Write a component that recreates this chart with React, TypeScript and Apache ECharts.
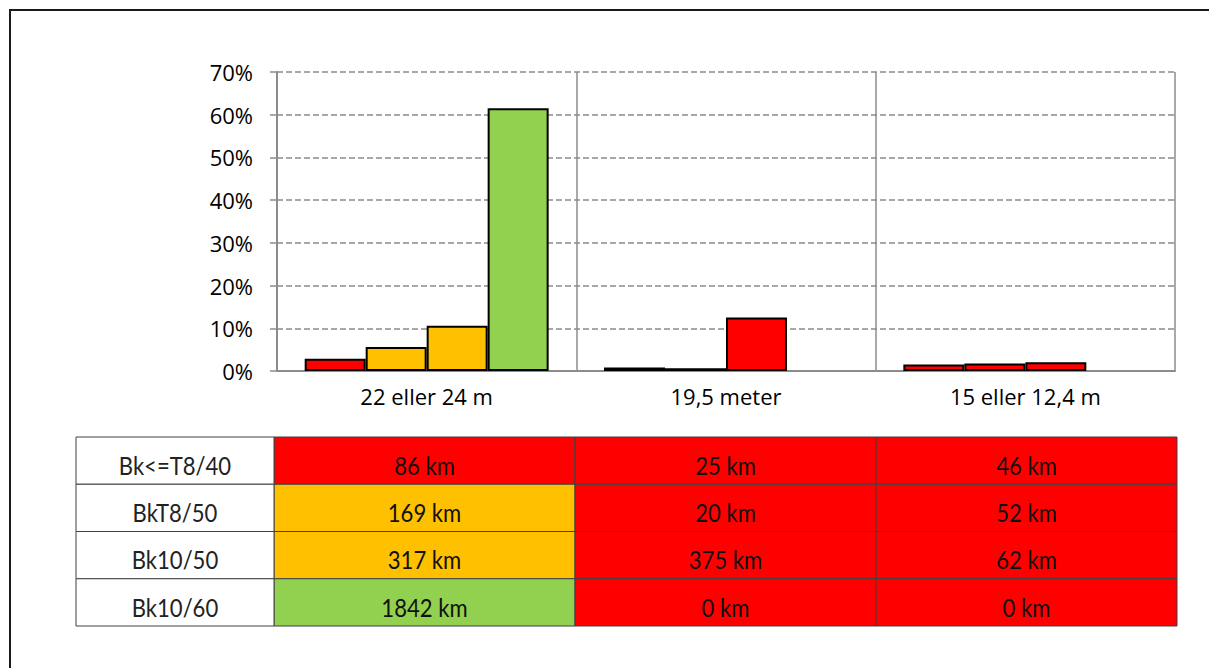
import React, { useEffect, useRef } from "react";
import * as echarts from "echarts";

// Vehicle length groups (x categories / table columns)
const categories = ["22 eller 24 m", "19,5 meter", "15 eller 12,4 m"];
// Road classes (bar series / table rows)
const roadClasses = ["Bk<=T8/40", "BkT8/50", "Bk10/50", "Bk10/60"];

// Share of total road length (%) per road class, per vehicle length group
const shareBkT8_40 = [2.87, 0.83, 1.54];
const shareBkT8_50 = [5.64, 0.67, 1.74];
const shareBk10_50 = [10.59, 12.52, 2.07];
const shareBk10_60 = [61.52, 0, 0];

// Road length (km) per road class, per vehicle length group
const kmBkT8_40 = [86, 25, 46];
const kmBkT8_50 = [169, 20, 52];
const kmBk10_50 = [317, 375, 62];
const kmBk10_60 = [1842, 0, 0];

// Status colour per cell: r = red, o = orange, g = green
const statusBkT8_40 = ["r", "r", "r"];
const statusBkT8_50 = ["o", "r", "r"];
const statusBk10_50 = ["o", "r", "r"];
const statusBk10_60 = ["g", "r", "r"];

const yTicks = [0, 10, 20, 30, 40, 50, 60, 70];

const shares = [shareBkT8_40, shareBkT8_50, shareBk10_50, shareBk10_60];
const kms = [kmBkT8_40, kmBkT8_50, kmBk10_50, kmBk10_60];
const statuses = [statusBkT8_40, statusBkT8_50, statusBk10_50, statusBk10_60];

const COLORS: Record<string, string> = { r: "#FF0000", o: "#FFC000", g: "#92D050" };
const GRID_GRAY = "#8c8c8c";
const TABLE_LINE = "#404040";
const AXIS_FONT = "'Open Sans', 'Noto Sans', sans-serif";
const TABLE_FONT = "Lato, 'Noto Sans', sans-serif";
const TABLE_TEXT_SCALE = 0.85;

// One table cell: filled rect plus horizontally condensed centred text
function cellGraphic(api: any, x: number, y: number, fill: string, text: string, textColor: string) {
  const center = api.coord([x, y]);
  const size = api.size([1, 1]);
  return {
    type: "group",
    children: [
      {
        type: "rect",
        shape: {
          x: center[0] - size[0] / 2,
          y: center[1] - size[1] / 2,
          width: size[0],
          height: size[1],
        },
        style: { fill, stroke: TABLE_LINE, lineWidth: 1 },
      },
      {
        type: "text",
        x: center[0],
        y: center[1] + 4,
        scaleX: TABLE_TEXT_SCALE,
        style: {
          text,
          fill: textColor,
          font: `26px ${TABLE_FONT}`,
          align: "center",
          verticalAlign: "middle",
        },
      },
    ],
  };
}

function buildOption() {
  const barSeries = roadClasses.map((name, si) => ({
    type: "bar",
    name,
    xAxisIndex: 0,
    yAxisIndex: 0,
    barGap: "0%",
    barCategoryGap: "18.5%",
    data: shares[si].map((v, ci) => ({
      value: v,
      itemStyle: {
        color: COLORS[statuses[si][ci]],
        borderColor: "#000",
        borderWidth: v > 0 ? 2 : 0,
      },
    })),
  }));

  const valueCells: number[][] = [];
  roadClasses.forEach((_, r) => {
    categories.forEach((_, c) => valueCells.push([c, r]));
  });
  const labelCells: number[][] = roadClasses.map((_, r) => [0, r]);

  const tableValueSeries = {
    type: "custom",
    xAxisIndex: 1,
    yAxisIndex: 1,
    data: valueCells,
    renderItem: (_p: any, api: any) => {
      const c = api.value(0);
      const r = api.value(1);
      return cellGraphic(api, c, r, COLORS[statuses[r][c]], `${kms[r][c]} km`, "#111");
    },
  };

  const tableLabelSeries = {
    type: "custom",
    xAxisIndex: 2,
    yAxisIndex: 2,
    data: labelCells,
    renderItem: (_p: any, api: any) => {
      const r = api.value(1);
      return cellGraphic(api, 0, r, "#fff", roadClasses[r], "#222");
    },
  };

  return {
    animation: false,
    backgroundColor: "#fff",
    grid: [
      { left: 277, top: 72, width: 898, height: 299 },
      { left: 274, top: 437, width: 903, height: 189 },
      { left: 76, top: 437, width: 198, height: 189 },
    ],
    xAxis: [
      {
        type: "category",
        gridIndex: 0,
        data: categories,
        axisLine: { show: true, lineStyle: { color: GRID_GRAY, width: 2 } },
        axisTick: { show: false },
        axisLabel: { color: "#000", fontSize: 22, fontFamily: AXIS_FONT, margin: 14 },
        splitLine: { show: true, lineStyle: { color: GRID_GRAY, width: 1.5, type: "solid" } },
      },
      { type: "category", gridIndex: 1, data: categories, show: false },
      { type: "category", gridIndex: 2, data: ["label"], show: false },
    ],
    yAxis: [
      {
        type: "value",
        gridIndex: 0,
        min: yTicks[0],
        max: yTicks[yTicks.length - 1],
        interval: 10,
        axisLine: { show: true, lineStyle: { color: GRID_GRAY, width: 2 } },
        axisTick: { show: true, length: 7, lineStyle: { color: GRID_GRAY, width: 1.5 } },
        axisLabel: {
          color: "#000",
          fontSize: 22,
          fontFamily: AXIS_FONT,
          margin: 24,
          formatter: "{value}%",
        },
        splitLine: {
          show: true,
          lineStyle: { color: GRID_GRAY, width: 1.5, type: [6, 3] },
        },
      },
      { type: "category", gridIndex: 1, data: roadClasses, inverse: true, show: false },
      { type: "category", gridIndex: 2, data: roadClasses, inverse: true, show: false },
    ],
    graphic: [
      {
        type: "rect",
        shape: { x: 10, y: 10, width: 1210, height: 680 },
        style: { fill: "none", stroke: "#1a1a1a", lineWidth: 2 },
        silent: true,
      },
    ],
    series: [...barSeries, tableValueSeries, tableLabelSeries],
  };
}

export default function App() {
  const ref = useRef<HTMLDivElement>(null);
  useEffect(() => {
    if (!ref.current) return;
    const chart = echarts.init(ref.current, null, { renderer: "svg" });
    chart.setOption(buildOption() as any);
    return () => chart.dispose();
  }, []);
  return (
    <div
      ref={ref}
      style={{ position: "absolute", left: 0, top: 0, width: 1209, height: 668, background: "#fff" }}
    />
  );
}
